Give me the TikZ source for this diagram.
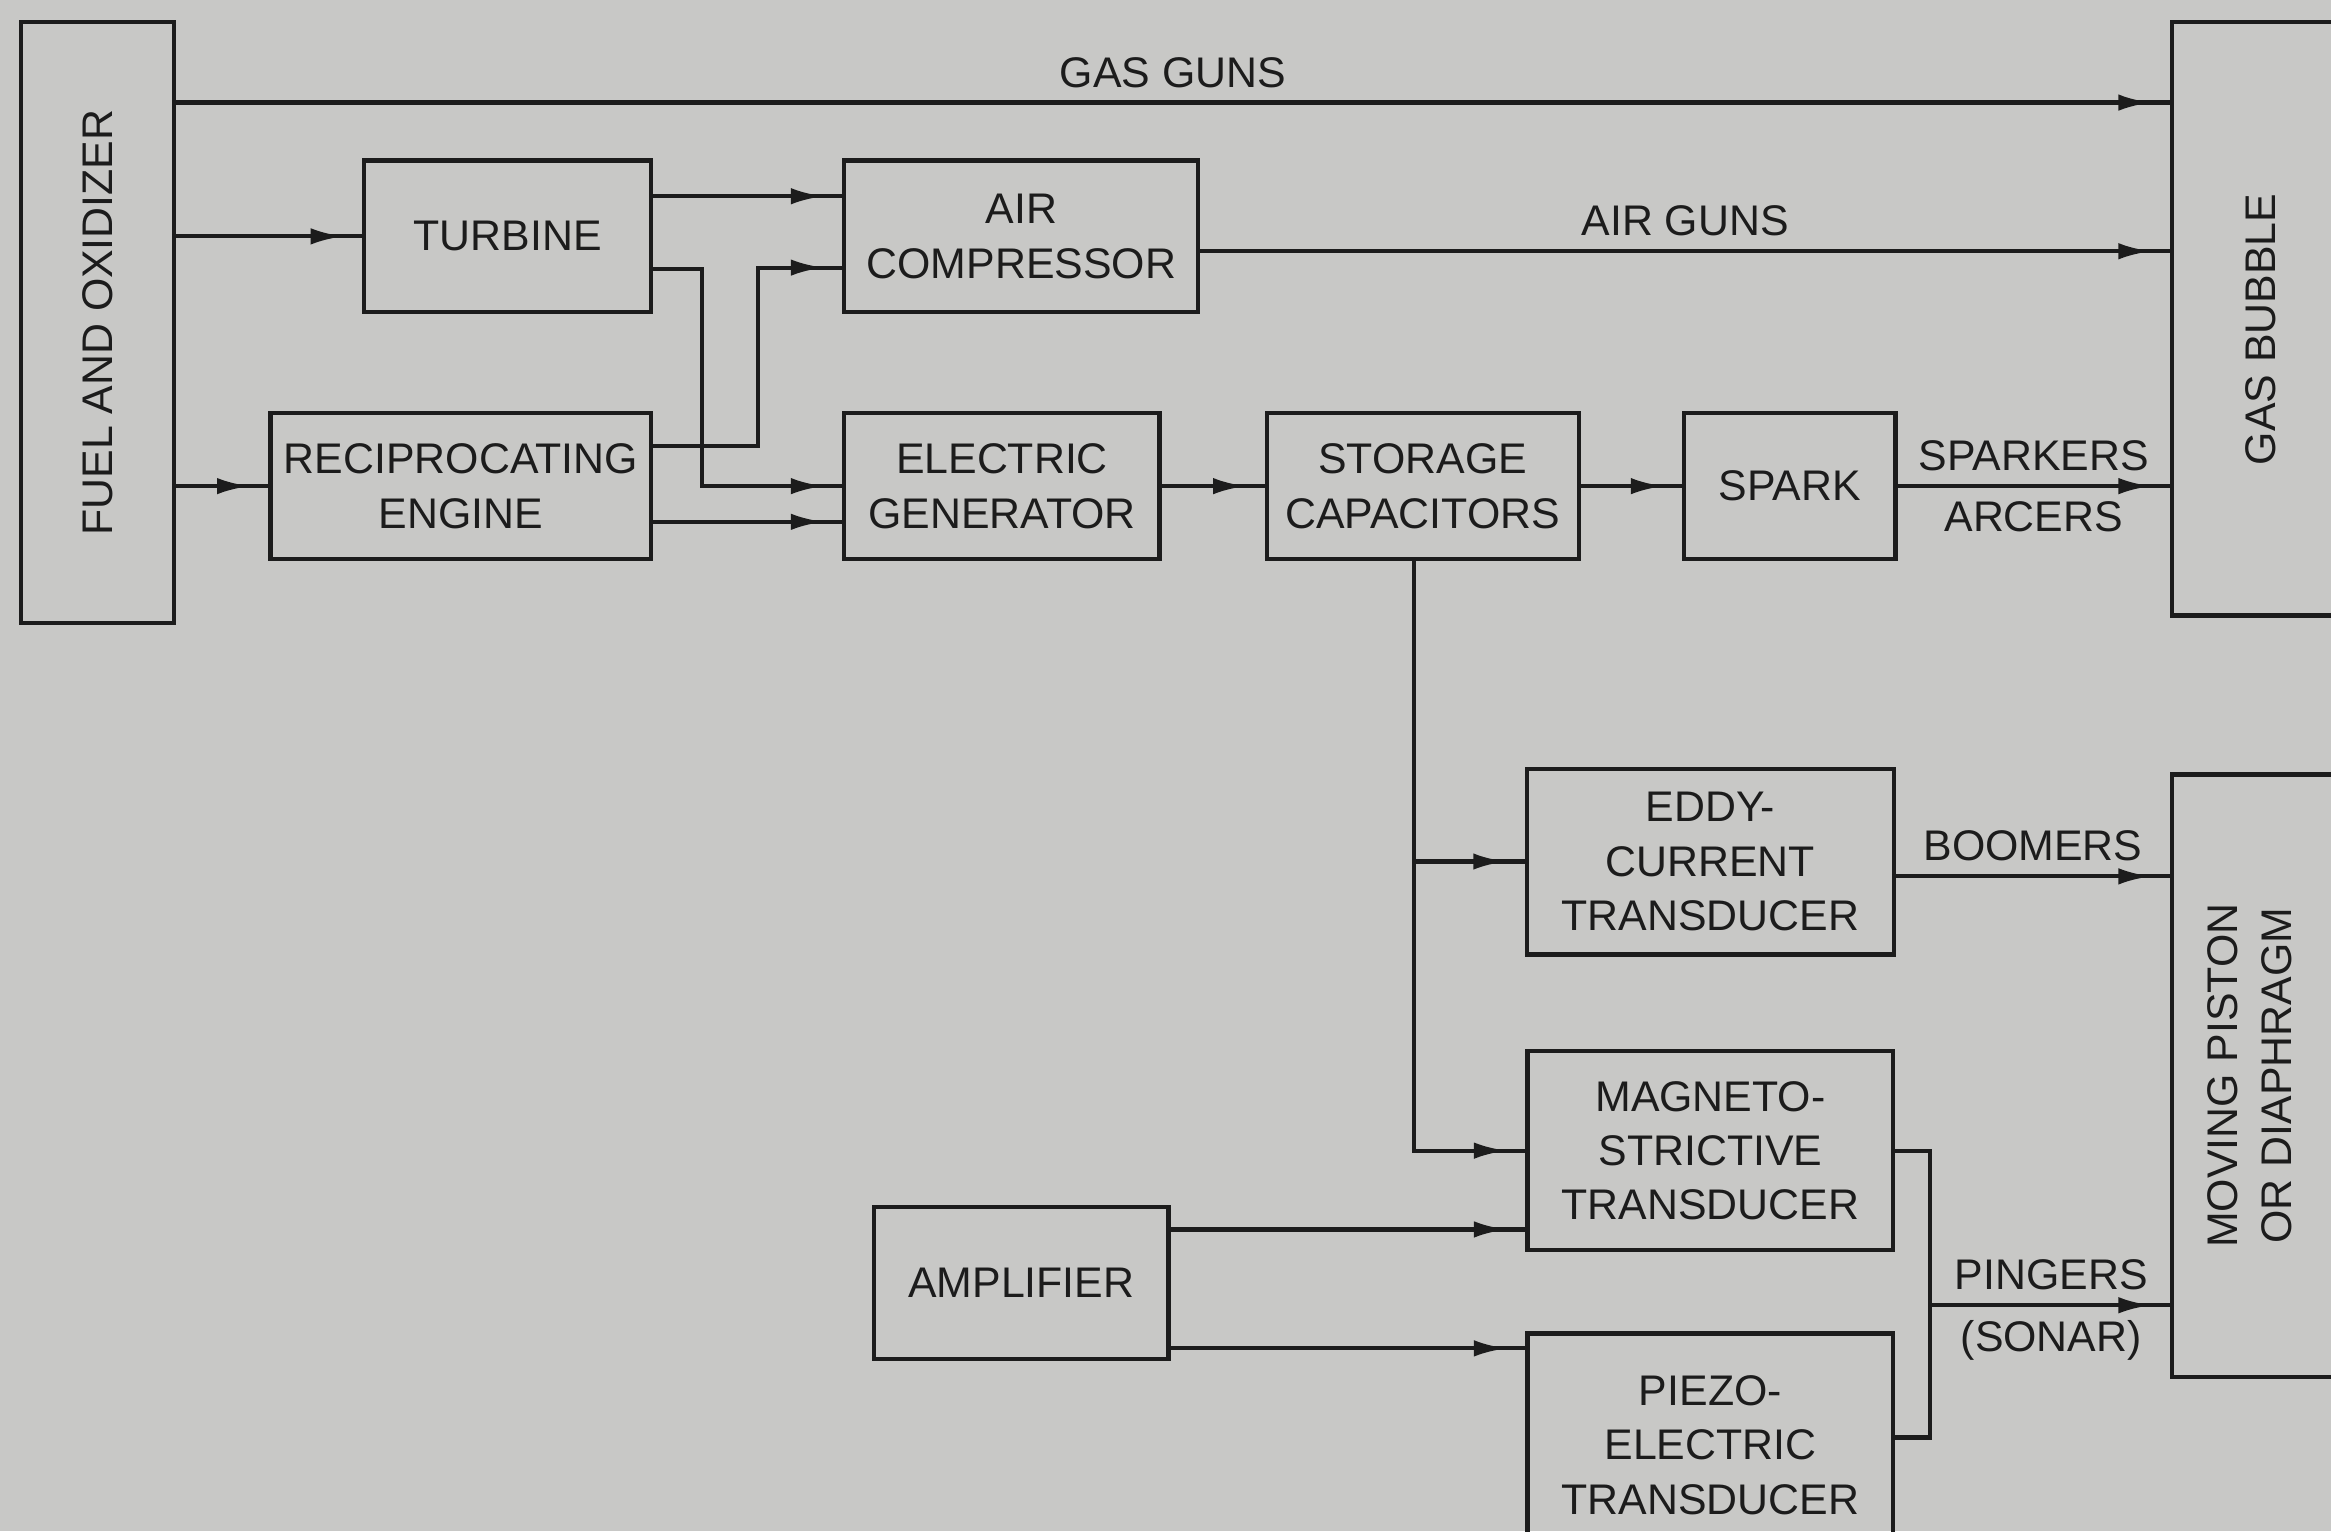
\documentclass[tikz,border=0pt]{standalone}
\usepackage{fontspec}
\usepackage{tikz}
\usetikzlibrary{positioning, arrows.meta, calc, decorations.markings}

\newfontfamily\blockfont{Liberation Sans}
\newcommand{\diagfont}{\blockfont\fontsize{8.2}{10.4}\selectfont}
\definecolor{paper}{RGB}{200,200,198}
\definecolor{ink}{RGB}{28,28,28}

\begin{document}
\begin{tikzpicture}[
        block/.style={draw=ink, thick, rectangle, inner sep=1pt, outer sep=0pt, align=center, text=ink, font=\diagfont},
        sidebox/.style={block, minimum width=1.2cm},
        vtext/.style={rotate=90, align=center, text=ink, font=\diagfont},
        edge/.style={draw=ink, thick},
        flow/.style={edge, postaction={decorate}, decoration={markings, mark=at position -1.4mm with {\arrow[ink]{Latex[length=2.2mm, width=1.1mm]}}}},
        varlabel/.style={font=\diagfont, text=ink, inner sep=2.5pt}
    ]

    \useasboundingbox (0,0) rectangle (15.68,-10.30);
    \fill[paper] (0,0) rectangle (15.68,-10.30);

    % Bloecke
    \node[block, minimum width=1.03cm, minimum height=4.04cm, label={[vtext]center:FUEL AND OXIDIZER}] (fuel) at (0.655,-2.17) {};
    \node[block, minimum width=1.93cm, minimum height=1.02cm] (turbine) at (3.415,-1.59) {TURBINE};
    \node[block, minimum width=2.56cm, minimum height=0.98cm] (recip) at (3.10,-3.27) {RECIPROCATING\\ENGINE};
    \node[block, minimum width=2.38cm, minimum height=1.02cm, right=1.3cm of turbine] (aircomp) {AIR\\COMPRESSOR};
    \node[block, minimum width=2.12cm, minimum height=0.98cm, right=1.3cm of recip] (elecgen) {ELECTRIC\\GENERATOR};
    \node[block, minimum width=2.10cm, minimum height=0.98cm, right=0.72cm of elecgen] (storage) {STORAGE\\CAPACITORS};
    \node[block, minimum width=1.42cm, minimum height=0.98cm, right=0.71cm of storage] (spark) {SPARK};
    \node[sidebox, minimum height=3.99cm, label={[yshift=-0.07cm, vtext]center:GAS BUBBLE}] (bubble) at (15.21,-2.145) {};
    \node[block, minimum width=2.47cm, minimum height=1.25cm] (eddy) at (11.505,-5.795) {EDDY-\\CURRENT\\TRANSDUCER};
    \node[block, minimum width=2.46cm, minimum height=1.34cm, below=0.65cm of eddy] (magneto) {MAGNETO-\\STRICTIVE\\TRANSDUCER};
    \node[block, minimum width=2.46cm, minimum height=1.50cm, below=0.56cm of magneto] (piezo) {PIEZO-\\ELECTRIC\\TRANSDUCER};
    \node[block, minimum width=1.98cm, minimum height=1.02cm] (amp) at (6.87,-8.63) {AMPLIFIER};
    \node[sidebox, minimum height=4.05cm, label={[xshift=-0.075cm, vtext]center:MOVING PISTON\\OR DIAPHRAGM}] (moving) at (15.21,-7.235) {};

    % Verbindungen
    \draw[flow] ([yshift=1.48cm]fuel.east) -- ([yshift=1.455cm]bubble.west) node[midway, above, varlabel] {GAS GUNS};
    \draw[flow] (fuel.east |- turbine.west) -- (turbine.west);
    \draw[flow] (fuel.east |- recip.west) -- (recip.west);
    \draw[flow] ([yshift=0.27cm]turbine.east) -- ([yshift=0.27cm]aircomp.west);
    \draw[flow] ([yshift=-0.22cm]turbine.east) -- ++(0.34,0) |- (elecgen.west);
    \draw[flow] ([yshift=0.27cm]recip.east) -- ++(0.72,0) |- ([yshift=-0.21cm]aircomp.west);
    \draw[flow] ([yshift=-0.24cm]recip.east) -- ([yshift=-0.24cm]elecgen.west);
    \draw[flow] ([yshift=-0.1cm]aircomp.east) -- ([yshift=-0.1cm]aircomp.east -| bubble.west) node[midway, above, varlabel] {AIR GUNS};
    \draw[flow] (elecgen) -- (storage);
    \draw[flow] (storage) -- (spark);
    \draw[flow] (spark.east) -- (spark.east -| bubble.west) node[midway, above, varlabel] {SPARKERS} node[midway, below, varlabel] {ARCERS};
    \draw[flow] ([xshift=-0.06cm]storage.south) |- (magneto.west);
    \draw[flow] ([xshift=-0.06cm]storage.south |- eddy.west) -- (eddy.west);
    \draw[flow] ([yshift=-0.1cm]eddy.east) -- ([yshift=-0.1cm]eddy.east -| moving.west) node[midway, above, varlabel] {BOOMERS};
    \draw[flow] ([yshift=0.36cm]amp.east) -- ([yshift=0.36cm]amp.east -| magneto.west);
    \draw[flow] ([yshift=-0.44cm]amp.east) -- ([yshift=-0.44cm]amp.east -| piezo.west);
    \coordinate[right=0.25cm of magneto.east] (bus);
    \draw[edge] (magneto.east) -- (bus) |- ([yshift=0.05cm]piezo.east);
    \coordinate[below=1.04cm of bus] (ping);
    \draw[flow] (ping) -- (ping -| moving.west) node[midway, above, varlabel] {PINGERS} node[midway, below, varlabel] {(SONAR)};

\end{tikzpicture}
\end{document}
